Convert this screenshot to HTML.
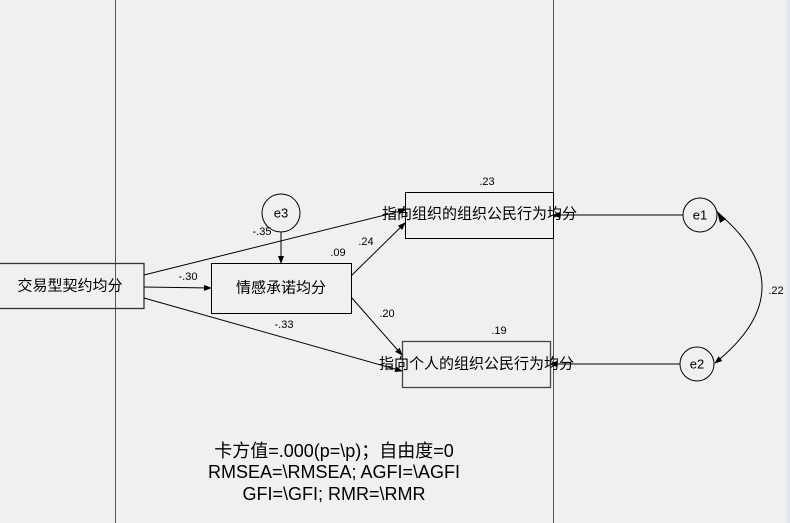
<!DOCTYPE html>
<html><head><meta charset="utf-8"><style>
html,body{margin:0;padding:0;background:#f0f0f0;}
svg{display:block;}
text{font-family:"Liberation Sans","Noto Sans CJK SC",sans-serif;fill:#000;}
</style></head><body>
<svg width="790" height="523" viewBox="0 0 790 523" xmlns="http://www.w3.org/2000/svg">
<defs>
<marker id="a" markerWidth="8" markerHeight="8" refX="7" refY="4" orient="auto" markerUnits="userSpaceOnUse">
<path d="M0,1 L8,4 L0,7 z" fill="#000"/></marker>
</defs>
<rect width="790" height="523" fill="#f0f0f0"/>
<rect x="787" y="0" width="3" height="523" fill="#dce6f2"/>
<line x1="115.5" y1="0" x2="115.5" y2="523" stroke="#555" stroke-width="1"/>
<line x1="553.5" y1="0" x2="553.5" y2="523" stroke="#555" stroke-width="1"/>
<g stroke="#000" stroke-width="1" fill="none">
<rect x="-2" y="263.5" width="146" height="45" stroke="#333" stroke-width="1.3"/>
<rect x="211.5" y="263.5" width="140" height="50"/>
<rect x="405.5" y="192.5" width="148" height="46"/>
<rect x="402.5" y="341.5" width="148" height="46" stroke="#444" stroke-width="1.3"/>
<circle cx="281" cy="213" r="19"/>
<circle cx="700" cy="215" r="17"/>
<circle cx="697" cy="364" r="17"/>
<line x1="144" y1="275" x2="405" y2="210" marker-end="url(#a)"/>
<line x1="144" y1="287" x2="211" y2="288" marker-end="url(#a)"/>
<line x1="144" y1="298" x2="402" y2="371" marker-end="url(#a)"/>
<line x1="281" y1="232" x2="281" y2="263" marker-end="url(#a)"/>
<line x1="351" y1="276" x2="405" y2="223" marker-end="url(#a)"/>
<line x1="351" y1="297" x2="402" y2="355" marker-end="url(#a)"/>
<line x1="683" y1="215" x2="553" y2="215" marker-end="url(#a)"/>
<line x1="680" y1="364" x2="550" y2="364" marker-end="url(#a)"/>
<path d="M717,212 Q808,288 715,363" marker-end="url(#a)"/>
</g>
<path d="M726,219 L717,211 L720,223 z" fill="#000"/>
<g font-size="15" dominant-baseline="central">
<text x="70" y="286" text-anchor="middle">交易型契约均分</text>
<text x="281" y="288" text-anchor="middle">情感承诺均分</text>
<text x="382" y="214">指向组织的组织公民行为均分</text>
<text x="379" y="364">指向个人的组织公民行为均分</text>
</g>
<g font-size="13" text-anchor="middle" dominant-baseline="central">
<text x="281" y="213">e3</text>
<text x="700" y="215">e1</text>
<text x="697" y="364">e2</text>
</g>
<g font-size="11" text-anchor="middle" dominant-baseline="central">
<text x="487" y="182">.23</text>
<text x="499" y="331">.19</text>
<text x="776" y="291">.22</text>
<text x="338" y="253">.09</text>
<text x="366" y="242">.24</text>
<text x="387" y="314">.20</text>
<text x="262" y="232">-.35</text>
<text x="188" y="277">-.30</text>
<text x="284" y="325">-.33</text>
</g>
<g font-size="18" text-anchor="middle">
<text x="334" y="457">卡方值=.000(p=\p)；自由度=0</text>
<text x="334" y="478">RMSEA=\RMSEA; AGFI=\AGFI</text>
<text x="334" y="500">GFI=\GFI; RMR=\RMR</text>
</g>
</svg>
</body></html>
